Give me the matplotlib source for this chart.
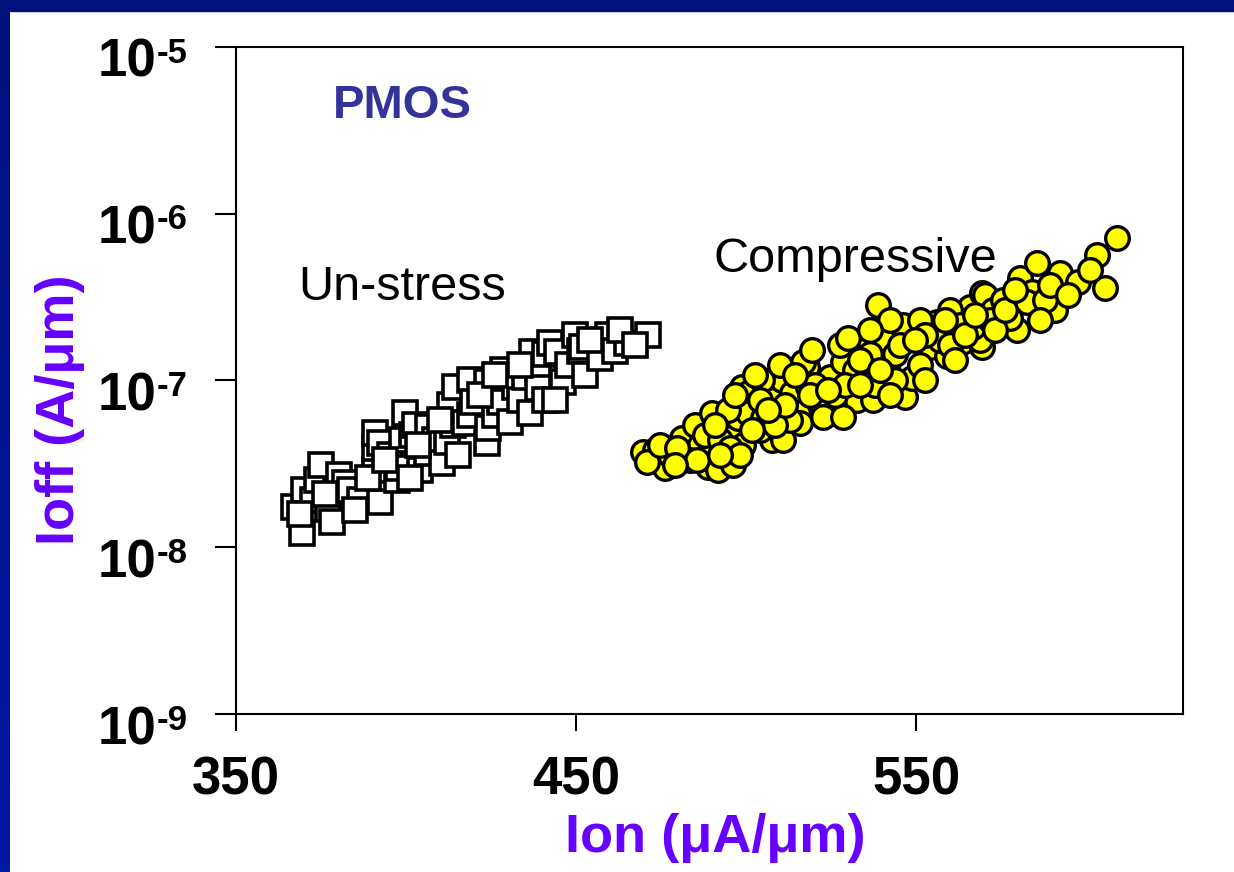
import matplotlib
matplotlib.use('Agg')
import numpy as np
import matplotlib.pyplot as plt
from matplotlib.patches import Rectangle
from matplotlib.ticker import NullLocator
from matplotlib.colors import LinearSegmentedColormap

plt.rcParams['font.family'] = ['Liberation Sans', 'DejaVu Sans']

# un-stressed devices (Ion in uA/um, Ioff in A/um)
unstress_ion = [367.1, 369.4, 370.0, 372.6, 373.8, 375.0, 377.1, 378.2, 379.4, 380.3,
                382.1, 383.5, 386.5, 390.9, 390.9, 390.9, 392.4, 392.4, 395.3, 397.4,
                397.6, 398.8, 399.7, 401.8, 402.6, 404.1, 406.2, 406.5, 408.5, 410.6,
                412.1, 412.9, 413.8, 414.4, 417.4, 418.8, 418.8, 419.7, 423.8, 424.1,
                423.8, 426.2, 427.6, 428.5, 430.6, 432.1, 433.5, 435.0, 436.5, 437.1,
                438.8, 438.8, 440.9, 440.9, 442.4, 444.4, 446.2, 447.6, 449.7, 451.2,
                451.8, 452.6, 457.1, 459.4, 461.5, 465.0, 471.2,
                368.8, 376.2, 385.0, 388.8, 393.8, 401.2, 403.5, 410.0, 415.3, 421.8,
                426.2, 433.5, 443.8, 454.1, 462.9, 467.4]
unstress_ioff = [1.75e-8, 1.22e-8, 2.21e-8, 1.93e-8, 2.54e-8, 3.12e-8, 1.70e-8, 1.42e-8, 2.21e-8, 2.72e-8,
                 2.44e-8, 2.21e-8, 1.93e-8, 2.91e-8, 3.94e-8, 4.85e-8, 1.87e-8, 4.23e-8, 3.58e-8, 2.54e-8,
                 2.99e-8, 4.41e-8, 6.40e-8, 4.72e-8, 5.42e-8, 2.91e-8, 3.68e-8, 5.27e-8, 4.41e-8, 3.21e-8,
                 4.29e-8, 7.15e-8, 5.42e-8, 9.17e-8, 5.57e-8, 6.22e-8, 1.01e-7, 7.45e-8, 4.23e-8, 5.20e-8,
                 9.82e-8, 6.22e-8, 7.45e-8, 1.16e-7, 5.65e-8, 9.17e-8, 7.66e-8, 1.05e-7, 6.40e-8, 1.47e-7,
                 1.19e-7, 9.04e-8, 7.66e-8, 1.43e-7, 1.68e-7, 1.47e-7, 9.82e-8, 1.24e-7, 1.88e-7, 1.49e-7,
                 1.59e-7, 1.08e-7, 1.37e-7, 1.88e-7, 1.49e-7, 1.68e-7, 1.88e-7,
                 1.57e-8, 2.07e-8, 1.68e-8, 2.61e-8, 3.35e-8, 2.61e-8, 4.12e-8, 5.82e-8, 3.59e-8, 8.21e-8,
                 1.08e-7, 1.24e-7, 7.66e-8, 1.75e-7, 2.01e-7, 1.64e-7]

# compressive-stressed devices
comp_ion = [469.7, 473.2, 476.2, 470.9, 481.2, 482.6, 485.0, 488.8, 490.0, 488.8,
            493.8, 494.7, 491.8, 497.6, 499.1, 498.8, 500.6, 500.6, 505.0, 507.6,
            507.6, 510.6, 510.9, 513.5, 518.0, 521.2, 515.3, 504.7, 486.5, 494.7,
            516.8, 522.4, 524.7, 528.5, 527.6, 530.6, 535.0, 535.6, 540.3, 541.8,
            538.8, 546.2, 546.8, 548.8, 554.1, 556.2, 559.1, 563.5, 565.9, 569.4,
            569.4, 532.6, 518.2, 515.9, 522.6, 542.4, 551.2, 560.0, 537.4, 528.5,
            570.3, 572.6, 579.7, 580.6, 584.1, 585.6, 590.9, 592.4, 597.6, 603.2,
            605.6, 609.1, 568.8, 575.6, 582.6, 566.8, 504.1, 512.9, 520.3, 526.2,
            532.1, 536.5, 543.8, 551.2, 557.1, 562.9, 571.8, 577.6, 587.9, 508.5,
            496.8, 487.9, 483.5, 492.4, 477.6, 504.1, 511.5, 518.8, 529.1, 537.9,
            543.8, 552.6, 560.0, 496.2,
            474.7, 479.7, 485.6, 490.9, 495.3, 501.8, 502.6, 506.5, 510.0, 514.4,
            519.4, 524.1, 530.0, 533.5, 539.4, 545.3, 549.7, 552.6, 558.5, 561.5,
            564.4, 567.4, 573.2, 576.2, 579.1, 586.5, 589.4, 594.7, 601.2, 498.2,
            492.4, 479.1, 536.5, 542.4, 533.5]
comp_ioff = [3.74e-8, 3.85e-8, 3.00e-8, 3.26e-8, 4.54e-8, 3.59e-8, 5.43e-8, 4.12e-8, 6.41e-8, 3.04e-8,
             3.49e-8, 5.07e-8, 2.92e-8, 5.98e-8, 4.12e-8, 9.17e-8, 8.44e-8, 6.41e-8, 5.98e-8, 7.66e-8,
             4.42e-8, 1.01e-7, 4.42e-8, 8.44e-8, 1.21e-7, 7.35e-8, 6.41e-8, 1.01e-7, 4.12e-8, 6.68e-8,
             1.29e-7, 7.15e-8, 1.05e-7, 1.29e-7, 1.64e-7, 8.80e-8, 1.04e-7, 1.83e-7, 1.75e-7, 1.28e-7,
             2.84e-7, 2.16e-7, 7.99e-8, 1.04e-7, 1.59e-7, 2.25e-7, 1.39e-7, 1.70e-7, 2.76e-7, 1.59e-7,
             3.35e-7, 7.66e-8, 9.17e-8, 5.58e-8, 6.06e-8, 2.31e-7, 2.31e-7, 2.65e-7, 7.66e-8, 6.06e-8,
             3.26e-7, 2.65e-7, 2.01e-7, 4.12e-7, 3.40e-7, 5.07e-7, 2.65e-7, 4.41e-7, 3.90e-7, 5.66e-7,
             3.59e-7, 7.15e-7, 1.75e-7, 3.04e-7, 2.96e-7, 2.10e-7, 5.07e-8, 5.82e-8, 9.42e-8, 8.21e-8,
             1.16e-7, 1.43e-7, 1.43e-7, 1.24e-7, 1.75e-7, 2.16e-7, 2.31e-7, 2.37e-7, 3.04e-7, 5.43e-8,
             8.21e-8, 4.73e-8, 3.35e-8, 4.42e-8, 3.59e-8, 7.66e-8, 7.15e-8, 8.21e-8, 9.42e-8, 9.42e-8,
             1.01e-7, 1.88e-7, 1.64e-7, 3.13e-8,
             4.12e-8, 3.95e-8, 3.35e-8, 5.43e-8, 3.95e-8, 5.07e-8, 1.08e-7, 6.68e-8, 1.24e-7, 1.08e-7,
             1.53e-7, 8.80e-8, 1.80e-7, 1.33e-7, 1.16e-7, 1.64e-7, 1.75e-7, 1.01e-7, 2.31e-7, 1.33e-7,
             1.88e-7, 2.47e-7, 2.01e-7, 2.65e-7, 3.49e-7, 2.31e-7, 3.74e-7, 3.26e-7, 4.60e-7, 3.59e-8,
             3.59e-8, 3.13e-8, 2.01e-7, 8.21e-8, 9.42e-8]

x_ticks = [350, 450, 550]
x_tick_labels = ['350', '450', '550']
y_ticks = [1e-9, 1e-8, 1e-7, 1e-6, 1e-5]
y_tick_labels = [('10', '-9'), ('10', '-8'), ('10', '-7'), ('10', '-6'), ('10', '-5')]

fig = plt.figure(figsize=(12.34, 8.72), dpi=100)

# blue slide frame
fig.patches.append(Rectangle((0, 1 - 11 / 872), 1, 11 / 872, transform=fig.transFigure,
                             color='#00117c', zorder=0))
band = fig.add_axes([0, 0, 10 / 1234, 1])
band.imshow(np.linspace(0, 1, 100).reshape(-1, 1), aspect='auto',
            cmap=LinearSegmentedColormap.from_list('frame', ['#00117c', '#0019a6']))
band.axis('off')

ax = fig.add_axes([236 / 1234, 1 - 714 / 872, 947 / 1234, 667.3 / 872])
ax.plot(unstress_ion, unstress_ioff, ls='none', marker='s', ms=17.5, mfc='white',
        mec='black', mew=2.6)
ax.plot(comp_ion, comp_ioff, ls='none', marker='o', ms=17, mfc='#ffff00',
        mec='black', mew=2.4)

ax.set_yscale('log')
ax.set_ylim(1e-9, 1e-5)
ax.set_xlim(350, 628.5)

for s in ax.spines.values():
    s.set_linewidth(1.5)

ax.set_xticks(x_ticks)
ax.set_xticklabels(x_tick_labels, fontsize=38, fontweight='bold')
ax.tick_params(axis='x', length=12, width=1.5, pad=18)

ax.set_yticks(y_ticks)
ax.set_yticklabels([])
ax.yaxis.set_minor_locator(NullLocator())
ax.tick_params(axis='y', length=15, width=1.5)
for v, (base, sup) in zip(y_ticks, y_tick_labels):
    ax.annotate(base, xy=(0, v), xycoords=('axes fraction', 'data'), xytext=(-57, -21.6),
                textcoords='offset points', ha='right', va='baseline', fontsize=38,
                fontweight='bold', annotation_clip=False)
    ax.annotate(sup, xy=(0, v), xycoords=('axes fraction', 'data'), xytext=(-57, -11.5),
                textcoords='offset points', ha='left', va='baseline', fontsize=25,
                fontweight='bold', annotation_clip=False)

ax.set_xlabel('Ion (μA/μm)', fontsize=39, fontweight='bold', color='#6600ff')
ax.xaxis.set_label_coords(0.506, -0.148)
ax.set_ylabel('Ioff (A/μm)', fontsize=39, fontweight='bold', color='#6600ff')
ax.yaxis.set_label_coords(-0.159, 0.456)

ax.text(0.102, 0.893, 'PMOS', transform=ax.transAxes, fontsize=34, fontweight='bold',
        color='#333399', va='baseline')
ax.text(0.0655, 0.620, 'Un-stress', transform=ax.transAxes, fontsize=35, va='baseline')
ax.text(0.504, 0.662, 'Compressive', transform=ax.transAxes, fontsize=35, va='baseline')

fig.savefig('out.png', dpi=100)
